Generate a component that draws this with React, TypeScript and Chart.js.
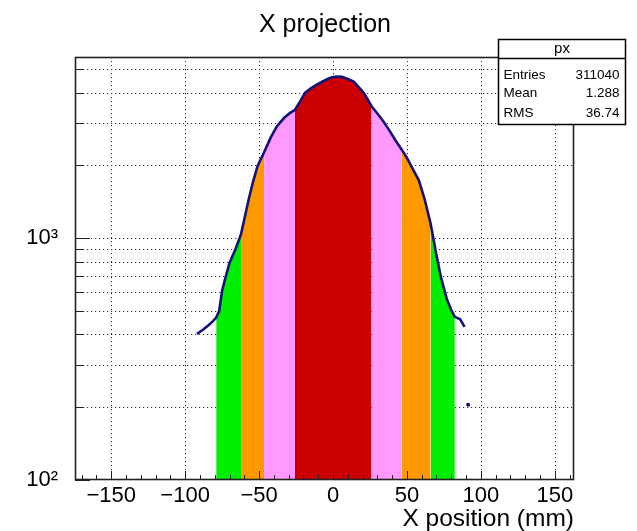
import React, { useEffect, useRef } from 'react';
import { Chart, registerables } from 'chart.js';

Chart.register(...registerables);

// ---- data ----
const binCenters = [
  -92, -88, -84, -81, -79, -77, -75, -73, -70, -66, -62.2, -57, -54, -51, -46.6,
  -42, -38, -33, -29, -25.7, -22, -19, -15, -11, -7, -3, 0, 3, 6, 10, 14, 18, 21,
  26.1, 30, 34, 38, 42, 46.4, 50, 54, 58, 62, 66, 70, 73, 77, 80, 82.4, 86, 89,
];
const counts = [
  402, 418, 438, 455, 470, 500, 607, 678, 790, 900, 1040, 1450, 1720, 1990, 2270,
  2620, 2900, 3150, 3300, 3400, 3700, 3990, 4170, 4315, 4450, 4580, 4640, 4670, 4650, 4560, 4450, 4180, 3980,
  3516, 3280, 3048, 2800, 2557, 2327, 2150, 1930, 1740, 1450, 1150, 850, 690, 560, 505, 473, 462, 430,
];
const strayX = [91.4];
const strayY = [205];

const bandEdges = [-79, -62.2, -46.6, -25.7, 26.1, 46.4, 66, 82.4];
const bandColors = ['#00ee00', '#ff9900', '#ff99ff', '#cc0000', '#ff99ff', '#ff9900', '#00ee00'];

const xMajorTicks = [-150, -100, -50, 0, 50, 100, 150];
const yTicks = [100, 200, 300, 400, 500, 600, 700, 800, 900, 1000, 2000, 3000, 4000, 5000];
const yTickLabels: Record<number, string> = { 100: '10\u00B2', 1000: '10\u00B3' };

const titleText = 'X projection';
const xAxisTitle = 'X position (mm)';
const statsName = 'px';
const statsLabels = ['Entries', 'Mean', 'RMS'];
const statsValues = ['311040', '1.288', '36.74'];

const FONT = '"Liberation Sans", Arial, Helvetica, sans-serif';
const MARKER = '#12127a';

const rootPlugin = {
  id: 'rootStyle',
  beforeDatasetsDraw(chart: any) {
    const { ctx, chartArea: a, scales } = chart;
    const x = scales.x, y = scales.y;
    ctx.save();
    ctx.strokeStyle = '#333';
    ctx.lineWidth = 1;
    ctx.setLineDash([1.2, 2.8]);
    ctx.beginPath();
    for (const v of xMajorTicks) {
      const px = Math.round(x.getPixelForValue(v)) + 0.5;
      ctx.moveTo(px, a.top);
      ctx.lineTo(px, a.bottom);
    }
    for (const v of yTicks) {
      if (v <= y.min) continue;
      const py = Math.round(y.getPixelForValue(v)) + 0.5;
      ctx.moveTo(a.left, py);
      ctx.lineTo(a.right, py);
    }
    ctx.stroke();
    ctx.restore();
  },
  afterDatasetsDraw(chart: any) {
    const { ctx, chartArea: a, scales } = chart;
    const x = scales.x, y = scales.y;
    ctx.save();
    ctx.strokeStyle = '#222';
    ctx.lineWidth = 1;
    ctx.beginPath();
    for (let v = -170; v <= 160; v += 10) {
      const major = v % 50 === 0;
      const px = Math.round(x.getPixelForValue(v)) + 0.5;
      ctx.moveTo(px, a.bottom);
      ctx.lineTo(px, a.bottom - (major ? 9 : 5));
    }
    for (const v of yTicks) {
      const major = v === 100 || v === 1000;
      const py = Math.round(y.getPixelForValue(v)) + 0.5;
      ctx.moveTo(a.left, py);
      ctx.lineTo(a.left + (major ? 15 : 8), py);
    }
    ctx.stroke();
    ctx.lineWidth = 1.6;
    ctx.strokeRect(a.left + 0.5, a.top + 0.5, a.right - a.left - 1, a.bottom - a.top - 1);
    ctx.restore();
  },
  afterDraw(chart: any) {
    const { ctx, chartArea: a } = chart;
    ctx.save();
    ctx.fillStyle = '#000';
    ctx.font = `25px ${FONT}`;
    ctx.textAlign = 'center';
    ctx.textBaseline = 'alphabetic';
    ctx.fillText(titleText, 325, 32);
    ctx.font = `24.5px ${FONT}`;
    ctx.textAlign = 'right';
    ctx.fillText(xAxisTitle, a.right, 526);
    const bx = 498.5, by = 39.5, bw = 127, bh = 85, hh = 19;
    ctx.fillStyle = '#fff';
    ctx.fillRect(bx, by, bw, bh);
    ctx.strokeStyle = '#000';
    ctx.lineWidth = 1.5;
    ctx.strokeRect(bx, by, bw, bh);
    ctx.beginPath();
    ctx.moveTo(bx, by + hh);
    ctx.lineTo(bx + bw, by + hh);
    ctx.stroke();
    ctx.fillStyle = '#000';
    ctx.font = `15px ${FONT}`;
    ctx.textAlign = 'center';
    ctx.textBaseline = 'middle';
    ctx.fillText(statsName, bx + bw / 2, by + hh / 2);
    ctx.font = `13.5px ${FONT}`;
    const rowY = [75, 93.5, 113];
    statsLabels.forEach((lab, i) => {
      ctx.textAlign = 'left';
      ctx.fillText(lab, bx + 5, rowY[i]);
      ctx.textAlign = 'right';
      ctx.fillText(statsValues[i], bx + bw - 6, rowY[i]);
    });
    ctx.restore();
  },
};

export default function App() {
  const ref = useRef<HTMLCanvasElement | null>(null);
  useEffect(() => {
    document.body.style.margin = '0';
    const canvas = ref.current;
    if (!canvas) return;
    const curve = binCenters.map((x, i) => ({ x, y: counts[i] }));
    const bands = bandColors.map((color, i) => {
      const lo = bandEdges[i], hi = bandEdges[i + 1];
      return {
        label: 'band' + i,
        data: curve.filter((p) => p.x >= lo && p.x <= hi),
        fill: 'start',
        backgroundColor: color,
        borderColor: 'transparent',
        borderWidth: 0,
        pointRadius: 0,
        tension: 0,
        order: 2,
      };
    });
    const chart = new Chart(canvas, {
      type: 'line',
      data: {
        datasets: [
          {
            label: 'px',
            data: curve,
            borderColor: MARKER,
            borderWidth: 2.6,
            pointRadius: 0,
            fill: false,
            tension: 0,
            order: 0,
          },
          {
            label: 'stray',
            data: strayX.map((x, i) => ({ x, y: strayY[i] })),
            showLine: false,
            pointRadius: 2,
            pointBackgroundColor: MARKER,
            pointBorderWidth: 0,
            order: 0,
          },
          ...bands,
        ] as any,
      },
      options: {
        animation: false,
        responsive: false,
        devicePixelRatio: 1,
        layout: { padding: { top: 57, right: 63, left: 0, bottom: 0 } },
        plugins: { legend: { display: false }, title: { display: false }, tooltip: { enabled: false } },
        scales: {
          x: {
            type: 'linear',
            min: -174.5,
            max: 163,
            grid: { display: false },
            border: { display: false },
            afterBuildTicks: (s: any) => {
              s.ticks = xMajorTicks.map((v) => ({ value: v }));
            },
            afterFit: (s: any) => {
              s.height = 51;
            },
            ticks: {
              autoSkip: false,
              maxRotation: 0,
              padding: -5,
              color: '#000',
              font: { family: FONT, size: 22 },
              callback: (v: any) => (Number(v) < 0 ? '\u2212' + Math.abs(Number(v)) : String(v)),
            },
          },
          y: {
            type: 'logarithmic',
            min: 100,
            max: 5620,
            grid: { display: false },
            border: { display: false },
            afterBuildTicks: (s: any) => {
              s.ticks = yTicks.map((v) => ({ value: v }));
            },
            afterFit: (s: any) => {
              s.width = 75;
            },
            ticks: {
              autoSkip: false,
              padding: 9,
              color: '#000',
              font: { family: FONT, size: 22 },
              callback: (v: any) => yTickLabels[Number(v)] ?? '',
            },
          },
        },
      },
      plugins: [rootPlugin],
    });
    return () => chart.destroy();
  }, []);
  return (
    <div style={{ position: 'absolute', left: 0, top: 0, width: 637, height: 531 }}>
      <canvas ref={ref} width={637} height={531} style={{ width: 637, height: 531, display: 'block' }} />
    </div>
  );
}
